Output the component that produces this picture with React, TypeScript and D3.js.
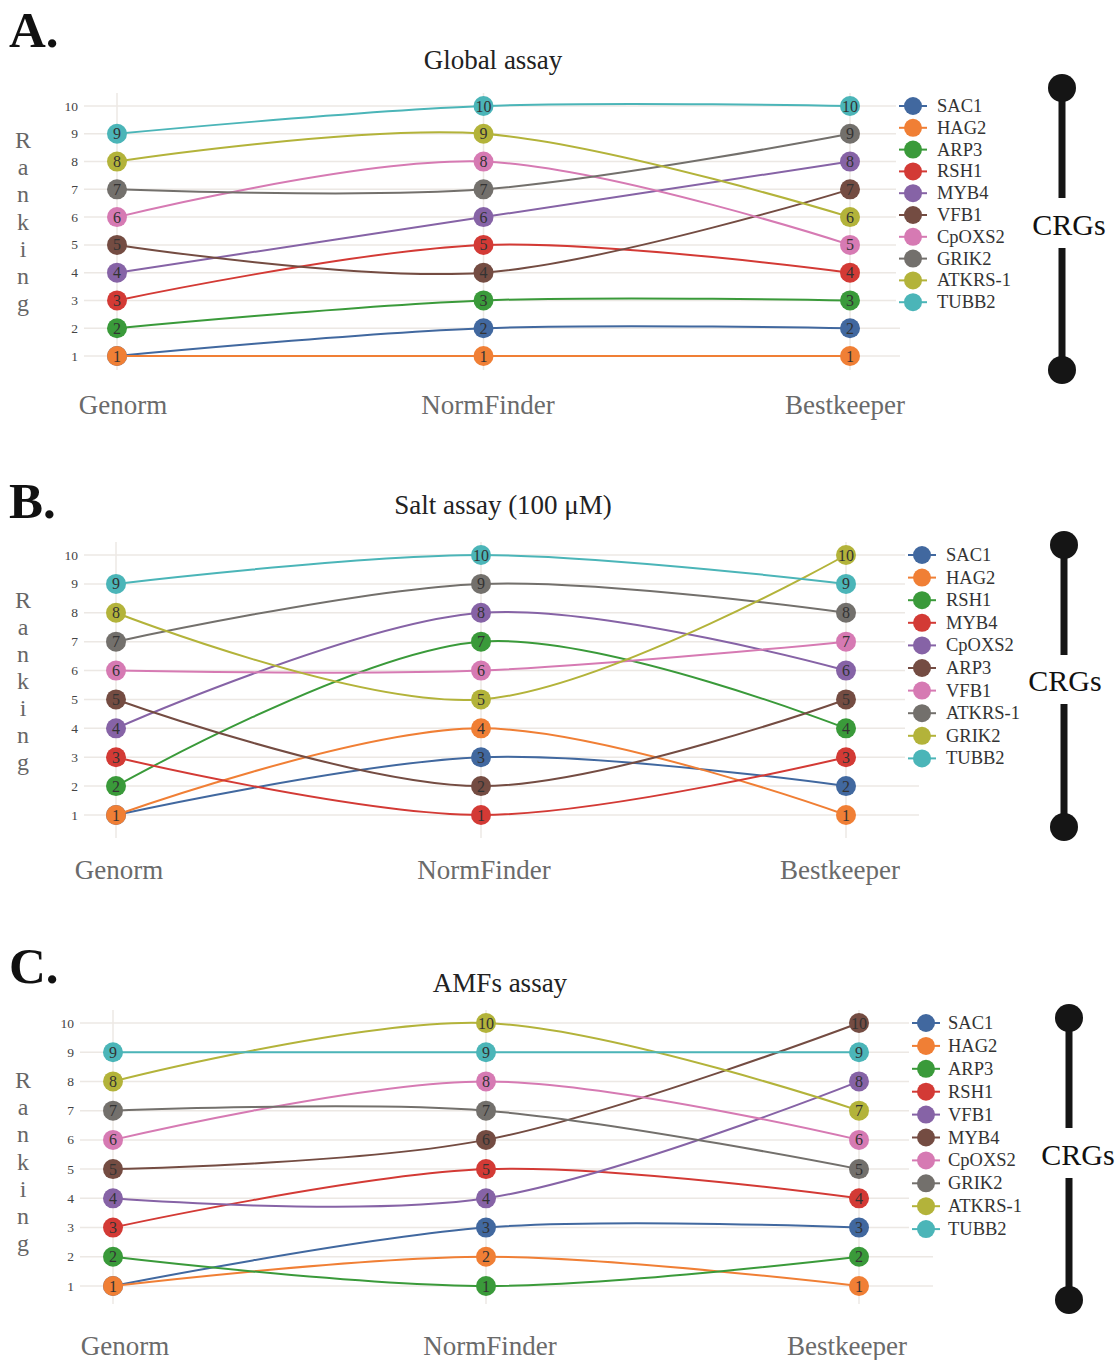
import React from "react";
import * as d3 from "d3";

const METHODS = ["Genorm", "NormFinder", "Bestkeeper"];
const TICKS = [1, 2, 3, 4, 5, 6, 7, 8, 9, 10];
const COLORS = ["#41689f", "#f07f35", "#3a9a3a", "#d33a35", "#8663a6", "#744c42", "#d67ab3", "#73706c", "#b3b33a", "#4bb5b8"];
const RANKING = ["R", "a", "n", "k", "i", "n", "g"];

const GENES_A = ["SAC1", "HAG2", "ARP3", "RSH1", "MYB4", "VFB1", "CpOXS2", "GRIK2", "ATKRS-1", "TUBB2"];
const RANKS_A = [[1, 2, 2], [1, 1, 1], [2, 3, 3], [3, 5, 4], [4, 6, 8], [5, 4, 7], [6, 8, 5], [7, 7, 9], [8, 9, 6], [9, 10, 10]];

const GENES_B = ["SAC1", "HAG2", "RSH1", "MYB4", "CpOXS2", "ARP3", "VFB1", "ATKRS-1", "GRIK2", "TUBB2"];
const RANKS_B = [[1, 3, 2], [1, 4, 1], [2, 7, 4], [3, 1, 3], [4, 8, 6], [5, 2, 5], [6, 6, 7], [7, 9, 8], [8, 5, 10], [9, 10, 9]];

const GENES_C = ["SAC1", "HAG2", "ARP3", "RSH1", "VFB1", "MYB4", "CpOXS2", "GRIK2", "ATKRS-1", "TUBB2"];
const RANKS_C = [[1, 3, 3], [1, 2, 1], [2, 1, 2], [3, 5, 4], [4, 4, 8], [5, 6, 10], [6, 8, 6], [7, 7, 5], [8, 10, 7], [9, 9, 9]];

const SERIF = "'Liberation Serif', 'Times New Roman', serif";

type Layout = {
  letter: string; letterY: number;
  title: string; titleX: number; titleY: number;
  x0: number; x1: number; yBottom: number; yTop: number;
  gridL: number; gridR: number; vTop: number; vBottom: number;
  tickX: number;
  labelY: number; labelXs: number[];
  rankX: number; rankY0: number; rankStep: number;
  legX: number; legTextX: number; legY0: number; legStep: number; legBgX: number;
  barX: number; barTop: number; barBottom: number; segEnd: number; segStart: number; crgX: number; crgY: number;
};

const LAYOUT_A: Layout = {
  letter: "A.", letterY: 47, title: "Global assay", titleX: 493, titleY: 69,
  x0: 117, x1: 850, yBottom: 356, yTop: 106,
  gridL: 84, gridR: 900, vTop: 93, vBottom: 370, tickX: 78,
  labelY: 414, labelXs: [123, 488, 845],
  rankX: 23, rankY0: 140, rankStep: 27.2,
  legX: 913, legTextX: 937, legY0: 106, legStep: 21.8, legBgX: 896,
  barX: 1062, barTop: 88, barBottom: 370, segEnd: 198, segStart: 248, crgX: 1069, crgY: 235,
};
const LAYOUT_B: Layout = {
  letter: "B.", letterY: 518, title: "Salt assay (100 μM)", titleX: 503, titleY: 514,
  x0: 116, x1: 846, yBottom: 815, yTop: 555,
  gridL: 84, gridR: 919, vTop: 542, vBottom: 838, tickX: 78,
  labelY: 879, labelXs: [119, 484, 840],
  rankX: 23, rankY0: 600, rankStep: 27,
  legX: 922, legTextX: 946, legY0: 555, legStep: 22.6, legBgX: 905,
  barX: 1064, barTop: 545, barBottom: 827, segEnd: 655, segStart: 704, crgX: 1065, crgY: 691,
};
const LAYOUT_C: Layout = {
  letter: "C.", letterY: 983, title: "AMFs assay", titleX: 500, titleY: 992,
  x0: 113, x1: 859, yBottom: 1286, yTop: 1023,
  gridL: 80, gridR: 933, vTop: 1010, vBottom: 1304, tickX: 74,
  labelY: 1355, labelXs: [125, 490, 847],
  rankX: 23, rankY0: 1080, rankStep: 27.2,
  legX: 926, legTextX: 948, legY0: 1023, legStep: 22.9, legBgX: 909,
  barX: 1069, barTop: 1018, barBottom: 1300, segEnd: 1128, segStart: 1178, crgX: 1078, crgY: 1165,
};

function Panel({ genes, ranks, L }: { genes: string[]; ranks: number[][]; L: Layout }) {
  const x = d3.scalePoint<string>().domain(METHODS).range([L.x0, L.x1]);
  const y = d3.scaleLinear().domain([1, 10]).range([L.yBottom, L.yTop]);
  const line = d3
    .line<number>()
    .x((_, i) => x(METHODS[i]) as number)
    .y((v) => y(v))
    .curve(d3.curveCatmullRom.alpha(0.5));
  const legH = genes.length * L.legStep;
  return (
    <g>
      <text x={9} y={L.letterY} fontFamily={SERIF} fontWeight="bold" fontSize={51} fill="#111">{L.letter}</text>
      <text x={L.titleX} y={L.titleY} textAnchor="middle" fontFamily={SERIF} fontSize={27} fill="#222">{L.title}</text>
      {TICKS.map((t) => (
        <line key={"h" + t} x1={L.gridL} x2={L.gridR} y1={y(t)} y2={y(t)} stroke="#ece8e4" strokeWidth={1.5} />
      ))}
      {METHODS.map((m) => (
        <line key={"v" + m} x1={x(m)} x2={x(m)} y1={L.vTop} y2={L.vBottom} stroke="#ece8e4" strokeWidth={1.5} />
      ))}
      {TICKS.map((t) => (
        <text key={"t" + t} x={L.tickX} y={y(t) + 4.5} textAnchor="end" fontFamily={SERIF} fontSize={13.5} fill="#444">{t}</text>
      ))}
      {RANKING.map((c, i) => (
        <text key={"r" + i} x={L.rankX} y={L.rankY0 + i * L.rankStep + 8} textAnchor="middle" fontFamily={SERIF} fontSize={24} fill="#666">{c}</text>
      ))}
      {METHODS.map((m, i) => (
        <text key={"l" + m} x={L.labelXs[i]} y={L.labelY} textAnchor="middle" fontFamily={SERIF} fontSize={27} fill="#6a6a6a">{m}</text>
      ))}
      {ranks.map((vals, si) => (
        <g key={"s" + si}>
          <path d={line(vals) || ""} fill="none" stroke={COLORS[si]} strokeWidth={2} />
          {vals.map((v, i) => (
            <g key={i}>
              <circle cx={x(METHODS[i])} cy={y(v)} r={10} fill={COLORS[si]} />
              <text x={x(METHODS[i])} y={y(v) + 5.5} textAnchor="middle" fontFamily={SERIF} fontSize={16} fill="#333">{v}</text>
            </g>
          ))}
        </g>
      ))}
      <rect x={L.legBgX} y={L.legY0 - 12} width={1020 - L.legBgX} height={legH + 4} fill="#fff" />
      {genes.map((g, i) => {
        const ly = L.legY0 + i * L.legStep;
        return (
          <g key={"g" + g}>
            <line x1={L.legX - 14} x2={L.legX + 14} y1={ly} y2={ly} stroke={COLORS[i]} strokeWidth={2} />
            <circle cx={L.legX} cy={ly} r={9} fill={COLORS[i]} />
            <text x={L.legTextX} y={ly + 6} fontFamily={SERIF} fontSize={18.5} fill="#333">{g}</text>
          </g>
        );
      })}
      <line x1={L.barX} x2={L.barX} y1={L.barTop} y2={L.segEnd} stroke="#151515" strokeWidth={7} />
      <line x1={L.barX} x2={L.barX} y1={L.segStart} y2={L.barBottom} stroke="#151515" strokeWidth={7} />
      <circle cx={L.barX} cy={L.barTop} r={14} fill="#151515" />
      <circle cx={L.barX} cy={L.barBottom} r={14} fill="#151515" />
      <text x={L.crgX} y={L.crgY} textAnchor="middle" fontFamily={SERIF} fontSize={30} fill="#111">CRGs</text>
    </g>
  );
}

export default function App() {
  return (
    <svg
      width={1119}
      height={1360}
      style={{ position: "absolute", left: 0, top: 0, background: "#fff" }}
    >
      <rect width={1119} height={1360} fill="#fff" />
      <Panel genes={GENES_A} ranks={RANKS_A} L={LAYOUT_A} />
      <Panel genes={GENES_B} ranks={RANKS_B} L={LAYOUT_B} />
      <Panel genes={GENES_C} ranks={RANKS_C} L={LAYOUT_C} />
    </svg>
  );
}
